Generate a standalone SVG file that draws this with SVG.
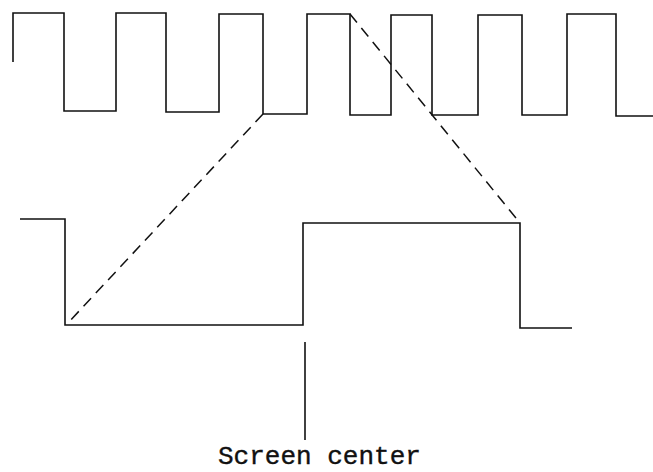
<svg xmlns="http://www.w3.org/2000/svg" width="653" height="472" viewBox="0 0 653 472">
<style>
.w{fill:none;stroke:#111;stroke-width:1.6;stroke-linejoin:miter}
.d{fill:none;stroke:#111;stroke-width:1.5;stroke-dasharray:11 7}
.t{font-family:"Liberation Mono","DejaVu Sans Mono",monospace;font-size:26px;fill:#111;stroke:#111;stroke-width:0.4}
</style>
<rect width="653" height="472" fill="#fff"/>
<g id="top-wave">
<path class="w" d="M13,62 V13 H64 V111 H116 V13 H166 V112 H219 V14 H263 V114 H307 V14 H350 V115 H391 V15 H432 V115 H478 V15 H522 V115 H567 V14 H616 V116 H653"/>
</g>
<g id="bottom-wave">
<path class="w" d="M20,219 H65 V325 H303 V223 H520 V328 H572"/>
</g>
<g id="connectors">
<line class="d" x1="263" y1="114" x2="67" y2="324"/>
<line class="d" x1="350" y1="14" x2="520" y2="223"/>
<line class="w" x1="305" y1="342" x2="305" y2="440"/>
</g>
<g id="label">
<text class="t" x="218" y="464">Screen center</text>
</g>
</svg>
